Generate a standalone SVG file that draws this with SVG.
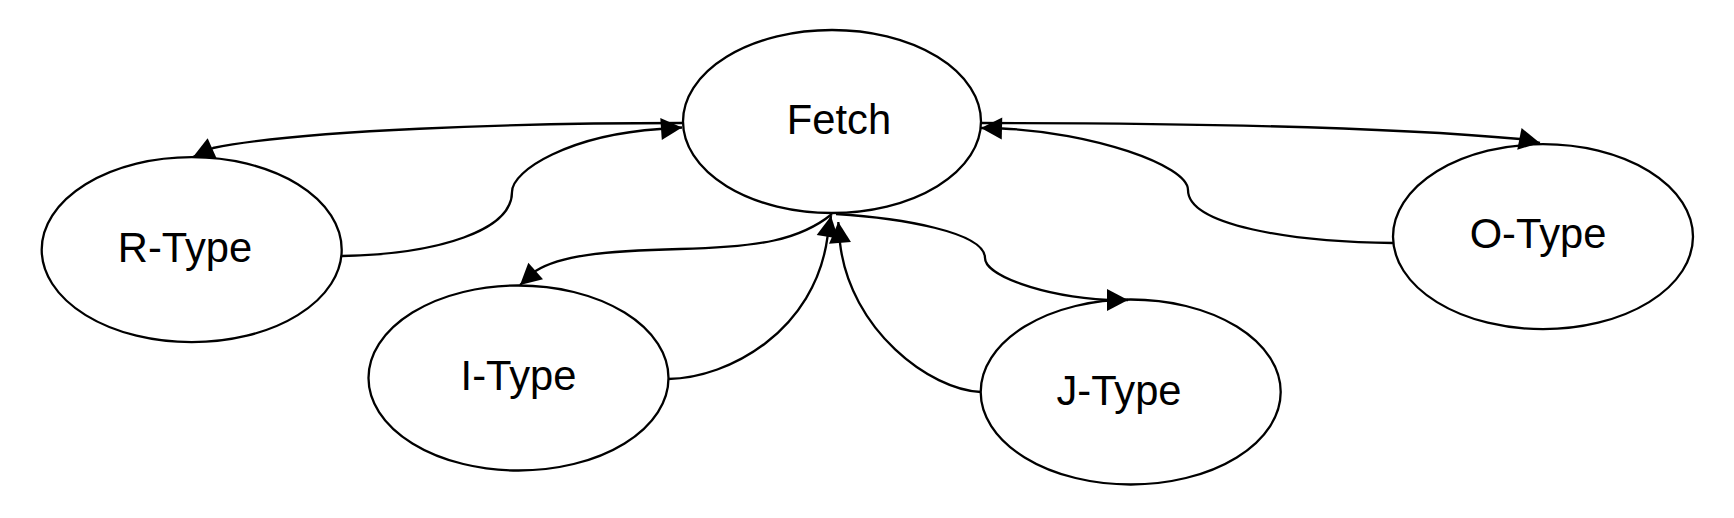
<svg xmlns="http://www.w3.org/2000/svg" width="1734" height="518" viewBox="0 0 1734 518">
<defs>
<style>
.node ellipse{fill:#fff;stroke:#000;stroke-width:2.3}
.node text{font-family:"Liberation Sans",Arial,sans-serif;font-size:41.7px;fill:#000;text-anchor:middle}
.edge{fill:none;stroke:#000;stroke-width:2.3;marker-end:url(#arr)}
</style>
<marker id="arr" markerUnits="userSpaceOnUse" markerWidth="24" markerHeight="24" refX="21" refY="11" orient="auto" overflow="visible">
<path d="M0,0 L21,11 L0,22 Z" fill="#000"/>
</marker>
</defs>
<rect width="1734" height="518" fill="#fff"/>
<g id="nodes">
<g id="fetch" class="node"><ellipse cx="832" cy="121.5" rx="149" ry="91.5"/><text x="839" y="134">Fetch</text></g>
<g id="rtype" class="node"><ellipse cx="191.7" cy="249.7" rx="150" ry="92.5"/><text x="185" y="262">R-Type</text></g>
<g id="itype" class="node"><ellipse cx="518.5" cy="378" rx="150" ry="92.5"/><text x="518.5" y="390">I-Type</text></g>
<g id="jtype" class="node"><ellipse cx="1130.7" cy="392" rx="150" ry="92.5"/><text x="1119" y="405">J-Type</text></g>
<g id="otype" class="node"><ellipse cx="1543" cy="236.7" rx="150" ry="92.5"/><text x="1538" y="247.5">O-Type</text></g>
</g>
<g id="connectors">
<path class="edge" d="M682,123 C520,123 300,130 213,148 L193,157"/>
<path class="edge" d="M342,256 C440,254 512,230 512,192 C512,170 570,135 660,129 L682,127.5"/>
<path class="edge" d="M832,214 C800,240 760,247 680,249 C600,251 560,256 536,270.7 L520,285"/>
<path class="edge" d="M668,379 C730,378 815,330 827.5,237 L831,216"/>
<path class="edge" d="M981,392 C930,390 850,330 840,243 L838.3,222"/>
<path class="edge" d="M836,214 C900,218 985,232 985,258 C985,275 1040,296 1108,300 L1128,300"/>
<path class="edge" d="M981,123 C1200,123 1400,128 1520,139 L1540,143"/>
<path class="edge" d="M1393,243 C1290,242 1188,225 1188,190 C1188,165 1090,132 1002,128.5 L981,128"/>
</g>
</svg>
